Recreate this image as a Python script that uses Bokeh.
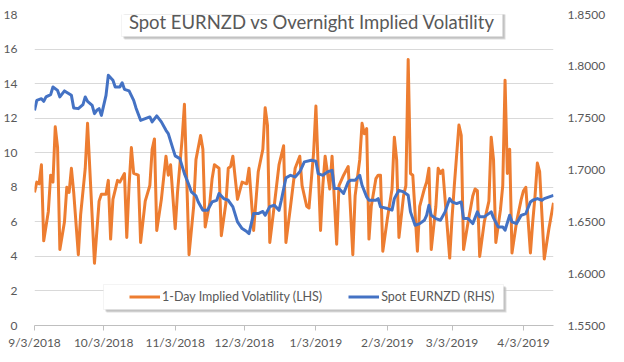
import pandas as pd
from bokeh.plotting import figure
from bokeh.models import (Range1d, LinearAxis, FixedTicker, NumeralTickFormatter,
                          ColumnDataSource, Legend, LegendItem, Label, BoxAnnotation)
from bokeh.embed import file_html
from bokeh.resources import INLINE

# ---------------- data ----------------
title_text = "Spot EURNZD vs Overnight Implied Volatility"
vol_name = "1-Day Implied Volatility (LHS)"
spot_name = "Spot EURNZD (RHS)"

vol_dates = [
    "2018-09-03", "2018-09-04", "2018-09-05", "2018-09-06", "2018-09-07", "2018-09-09", "2018-09-10",
    "2018-09-11", "2018-09-12", "2018-09-13", "2018-09-14", "2018-09-16", "2018-09-17", "2018-09-18",
    "2018-09-19", "2018-09-20", "2018-09-22", "2018-09-23", "2018-09-25", "2018-09-26", "2018-09-29",
    "2018-10-01", "2018-10-02", "2018-10-04", "2018-10-05", "2018-10-06", "2018-10-07", "2018-10-09",
    "2018-10-10", "2018-10-12", "2018-10-13", "2018-10-14", "2018-10-15", "2018-10-16", "2018-10-18",
    "2018-10-19", "2018-10-21", "2018-10-23", "2018-10-24", "2018-10-25", "2018-10-26", "2018-10-28",
    "2018-10-30", "2018-10-31",
    "2018-11-01", "2018-11-03", "2018-11-04", "2018-11-06", "2018-11-07", "2018-11-09", "2018-11-11",
    "2018-11-12", "2018-11-14", "2018-11-15", "2018-11-16", "2018-11-18", "2018-11-19", "2018-11-20",
    "2018-11-22", "2018-11-23", "2018-11-25", "2018-11-26", "2018-11-27", "2018-11-28", "2018-11-30",
    "2018-12-02", "2018-12-04", "2018-12-05", "2018-12-07", "2018-12-09", "2018-12-11", "2018-12-12",
    "2018-12-13", "2018-12-14", "2018-12-16", "2018-12-18", "2018-12-20", "2018-12-21", "2018-12-23",
    "2018-12-25", "2018-12-27", "2018-12-28", "2018-12-30", "2018-12-31",
    "2019-01-02", "2019-01-03", "2019-01-05", "2019-01-06", "2019-01-07", "2019-01-09", "2019-01-10",
    "2019-01-12", "2019-01-13", "2019-01-15", "2019-01-17", "2019-01-19", "2019-01-20", "2019-01-22",
    "2019-01-23", "2019-01-24", "2019-01-25", "2019-01-26", "2019-01-27", "2019-01-29", "2019-01-30",
    "2019-01-31",
    "2019-02-01", "2019-02-03", "2019-02-05", "2019-02-06", "2019-02-07", "2019-02-08", "2019-02-10",
    "2019-02-11", "2019-02-12", "2019-02-13", "2019-02-14", "2019-02-16", "2019-02-17", "2019-02-19",
    "2019-02-20", "2019-02-21", "2019-02-22", "2019-02-24", "2019-02-25", "2019-02-26", "2019-02-27",
    "2019-03-02", "2019-03-03", "2019-03-04", "2019-03-06", "2019-03-07", "2019-03-08", "2019-03-10",
    "2019-03-12", "2019-03-13", "2019-03-14", "2019-03-15", "2019-03-17", "2019-03-19", "2019-03-20",
    "2019-03-21", "2019-03-22", "2019-03-24", "2019-03-25", "2019-03-26", "2019-03-27", "2019-03-28",
    "2019-03-29", "2019-03-31",
    "2019-04-02", "2019-04-03", "2019-04-04", "2019-04-06", "2019-04-07", "2019-04-08", "2019-04-09",
    "2019-04-10", "2019-04-12", "2019-04-14", "2019-04-16",
]
vol_values = [
    7.7, 8.3, 8.2, 9.3, 4.9, 6.6, 8.7, 8.3, 11.5, 10.3, 4.4, 6.0, 8.0, 7.7, 9.1, 7.7, 4.1, 6.4, 9.1, 11.7, 3.6,
    7.2, 7.6, 7.6, 8.4, 5.0, 7.3, 8.4, 8.3, 8.8, 5.1, 8.1, 10.3, 8.8, 8.7, 4.8, 7.2, 8.1, 10.2, 10.8, 5.5,
    7.3, 9.8, 8.7,
    9.3, 5.6, 7.7, 10.8, 12.8, 4.1, 6.9, 9.6, 11.0, 10.2, 5.7, 7.1, 8.5, 9.3, 9.1, 5.2, 7.1, 9.1, 9.2, 9.8, 7.3,
    8.3, 8.2, 9.1, 5.5, 8.9, 10.2, 12.6, 11.6, 4.8, 7.0, 9.3, 10.4, 4.8, 6.9, 9.1, 9.8, 8.1, 6.9, 6.8,
    10.0, 12.7, 5.5, 8.1, 9.8, 7.9, 9.8, 4.7, 8.1, 8.7, 9.2, 4.1, 7.5, 9.6, 11.7, 11.1, 11.4, 5.0, 6.9,
    8.5, 8.7, 8.7,
    4.3, 6.2, 7.9, 10.9, 9.6, 5.1, 7.5, 8.1, 15.4, 8.8, 8.7, 4.3, 6.9, 7.9, 8.3, 9.1, 4.4, 6.9, 9.1, 8.8, 9.0,
    3.9, 6.2, 8.1, 11.6, 11.0, 4.4, 6.0, 7.5, 7.9, 7.8, 4.0, 6.0, 7.2, 10.9, 9.6, 4.8, 6.7, 8.1, 14.2, 8.8,
    10.2, 4.2, 6.0,
    7.3, 7.8, 8.0, 4.2, 6.0, 7.5, 9.4, 8.9, 3.85, 5.6, 7.1,
]

spot_dates = [
    "2018-09-03", "2018-09-04", "2018-09-06", "2018-09-07", "2018-09-08", "2018-09-10", "2018-09-11",
    "2018-09-13", "2018-09-14", "2018-09-16", "2018-09-19", "2018-09-20", "2018-09-22", "2018-09-24",
    "2018-09-25", "2018-09-26", "2018-09-28", "2018-09-29", "2018-09-30",
    "2018-10-01", "2018-10-02", "2018-10-04", "2018-10-05", "2018-10-07", "2018-10-08", "2018-10-10",
    "2018-10-11", "2018-10-12", "2018-10-14", "2018-10-16", "2018-10-17", "2018-10-19", "2018-10-21",
    "2018-10-23", "2018-10-24", "2018-10-26", "2018-10-28", "2018-10-30", "2018-10-31",
    "2018-11-02", "2018-11-03", "2018-11-05", "2018-11-07", "2018-11-09", "2018-11-10", "2018-11-12",
    "2018-11-13", "2018-11-15", "2018-11-17", "2018-11-19", "2018-11-21", "2018-11-22", "2018-11-24",
    "2018-11-26", "2018-11-28", "2018-11-30",
    "2018-12-02", "2018-12-04", "2018-12-05", "2018-12-07", "2018-12-09", "2018-12-11", "2018-12-12",
    "2018-12-14", "2018-12-16", "2018-12-18", "2018-12-19", "2018-12-21", "2018-12-23", "2018-12-25",
    "2018-12-27", "2018-12-29",
    "2019-01-01", "2019-01-03", "2019-01-04", "2019-01-06", "2019-01-08", "2019-01-10", "2019-01-11",
    "2019-01-13", "2019-01-15", "2019-01-17", "2019-01-18", "2019-01-20", "2019-01-22", "2019-01-23",
    "2019-01-25", "2019-01-26", "2019-01-29", "2019-01-30", "2019-01-31",
    "2019-02-03", "2019-02-05", "2019-02-06", "2019-02-08", "2019-02-10", "2019-02-12", "2019-02-13",
    "2019-02-15", "2019-02-17", "2019-02-19", "2019-02-20", "2019-02-21", "2019-02-22", "2019-02-24",
    "2019-02-26", "2019-02-28",
    "2019-03-02", "2019-03-03", "2019-03-05", "2019-03-07", "2019-03-08", "2019-03-10", "2019-03-12",
    "2019-03-14", "2019-03-15", "2019-03-17", "2019-03-20", "2019-03-21", "2019-03-23", "2019-03-25",
    "2019-03-26", "2019-03-28", "2019-03-29", "2019-03-31",
    "2019-04-02", "2019-04-04", "2019-04-06", "2019-04-07", "2019-04-09", "2019-04-11", "2019-04-12",
    "2019-04-16",
]
spot_values = [
    1.7576, 1.7672, 1.7688, 1.7662, 1.7705, 1.7727, 1.7801, 1.7768, 1.7705, 1.7763, 1.7720, 1.7599,
    1.7592, 1.7630, 1.7705, 1.7662, 1.7624, 1.7544, 1.7576,
    1.7592, 1.7527, 1.7720, 1.7913, 1.7865, 1.7801, 1.7801, 1.7842, 1.7778, 1.7763, 1.7672, 1.7599,
    1.7479, 1.7495, 1.7512, 1.7464, 1.7522, 1.7464, 1.7383, 1.7351,
    1.7206, 1.7136, 1.7110, 1.6965, 1.6853, 1.6789, 1.6750, 1.6692, 1.6611, 1.6611, 1.6692, 1.6708,
    1.6773, 1.6724, 1.6708, 1.6644, 1.6500,
    1.6435, 1.6406, 1.6387, 1.6580, 1.6580, 1.6600, 1.6563, 1.6647, 1.6660, 1.6611, 1.6708, 1.6924,
    1.6949, 1.6933, 1.6982, 1.7078,
    1.7094, 1.7084, 1.6965, 1.6949, 1.6982, 1.6997, 1.6821, 1.6821, 1.6773, 1.6885, 1.6901, 1.6901,
    1.6949, 1.6853, 1.6741, 1.6708, 1.6708, 1.6724, 1.6644,
    1.6628, 1.6613, 1.6724, 1.6804, 1.6789, 1.6756, 1.6596, 1.6467, 1.6483, 1.6515, 1.6563, 1.6660,
    1.6563, 1.6531, 1.6515, 1.6596,
    1.6724, 1.6692, 1.6676, 1.6692, 1.6531, 1.6531, 1.6483, 1.6596, 1.6548, 1.6548, 1.6596, 1.6538,
    1.6451, 1.6451, 1.6419, 1.6563, 1.6500, 1.6483,
    1.6563, 1.6580, 1.6692, 1.6708, 1.6724, 1.6708, 1.6724, 1.6756,
]

x_start, x_end = "2018-09-03", "2019-04-16"
x_tick_dates = ["2018-09-03", "2018-10-03", "2018-11-03", "2018-12-03",
                "2019-01-03", "2019-02-03", "2019-03-03", "2019-04-03"]
x_tick_labels = ["9/3/2018", "10/3/2018", "11/3/2018", "12/3/2018",
                 "1/3/2019", "2/3/2019", "3/3/2019", "4/3/2019"]
left_ticks = [0, 2, 4, 6, 8, 10, 12, 14, 16, 18]
right_ticks = [1.55, 1.60, 1.65, 1.70, 1.75, 1.80, 1.85]

assert len(vol_dates) == len(vol_values)
assert len(spot_dates) == len(spot_values)

# ---------------- style ----------------
ORANGE = "#ED7D31"
BLUE = "#4472C4"
TXT = "#595959"
GRID = "#d9d9d9"
FONT = "Lato"

vol_src = ColumnDataSource(dict(x=pd.to_datetime(vol_dates), y=vol_values))
spot_src = ColumnDataSource(dict(x=pd.to_datetime(spot_dates), y=spot_values))

p = figure(width=608, height=352, output_backend="svg", toolbar_location=None,
           x_axis_type=None,
           x_range=Range1d(pd.Timestamp(x_start), pd.Timestamp(x_end)),
           y_range=Range1d(left_ticks[0], left_ticks[-1]))
p.extra_y_ranges = {"spot": Range1d(right_ticks[0], right_ticks[-1])}
p.min_border_left = 26
p.min_border_right = 46
p.min_border_top = 14
p.min_border_bottom = 27
p.outline_line_color = None
p.background_fill_color = "white"
p.border_fill_color = "white"

# left axis
lax = p.yaxis[0]
lax.ticker = FixedTicker(ticks=left_ticks)
lax.axis_line_color = None
lax.major_tick_line_color = None
lax.minor_tick_line_color = None
lax.major_label_text_font = FONT
lax.major_label_text_font_size = "12px"
lax.major_label_text_color = TXT
lax.major_label_standoff = 11

p.ygrid.ticker = FixedTicker(ticks=left_ticks)
p.ygrid.grid_line_color = GRID
p.ygrid.grid_line_width = 1

# right axis
rax = LinearAxis(y_range_name="spot", ticker=FixedTicker(ticks=right_ticks),
                 formatter=NumeralTickFormatter(format="0.0000"))
rax.axis_line_color = None
rax.major_tick_line_color = None
rax.minor_tick_line_color = None
rax.major_label_text_font = FONT
rax.major_label_text_font_size = "12px"
rax.major_label_text_color = TXT
rax.major_label_standoff = 8
p.add_layout(rax, "right")

# bottom date axis
tick_ms = [int(pd.Timestamp(d).value // 10**6) for d in x_tick_dates]
xax = LinearAxis(ticker=FixedTicker(ticks=tick_ms),
                 major_label_overrides={ms: lab for ms, lab in zip(tick_ms, x_tick_labels)})
xax.axis_line_color = "#bfbfbf"
xax.major_tick_line_color = "#bfbfbf"
xax.major_tick_out = 5
xax.major_tick_in = 0
xax.minor_tick_line_color = None
xax.major_label_text_font = FONT
xax.major_label_text_font_size = "12px"
xax.major_label_text_color = TXT
xax.major_label_standoff = 4
xax.axis_label_standoff = 0
p.add_layout(xax, "below")

# lines
r_vol = p.line("x", "y", source=vol_src, line_color=ORANGE, line_width=3, line_join="round")
r_spot = p.line("x", "y", source=spot_src, line_color=BLUE, line_width=3, line_join="round",
                y_range_name="spot")


def box_with_shadow(left, right, bottom, top):
    for d, col, alpha in [(3, "#cfcfcf", 0.7), (2, "#b0b0b0", 0.6)]:
        p.add_layout(BoxAnnotation(left=left + d, right=right + d, bottom=bottom - d, top=top - d,
                                   left_units="screen", right_units="screen",
                                   bottom_units="screen", top_units="screen",
                                   fill_color=col, fill_alpha=alpha, line_color=None))
    p.add_layout(BoxAnnotation(left=left, right=right, bottom=bottom, top=top,
                               left_units="screen", right_units="screen",
                               bottom_units="screen", top_units="screen",
                               fill_color="white", fill_alpha=1.0,
                               line_color=GRID, line_width=1))


# title box (frame-relative screen units) and title text
box_with_shadow(87, 468, 289, 319)
p.add_layout(Label(x=277.5, y=304, x_units="screen", y_units="screen",
                   text=title_text, text_font=FONT, text_font_size="18.5px", text_color=TXT,
                   text_align="center", text_baseline="middle"))

# legend box
box_with_shadow(69, 469, 16, 41)
legend = Legend(items=[LegendItem(label=vol_name, renderers=[r_vol]),
                       LegendItem(label=spot_name, renderers=[r_spot])],
                location=(95, 21), orientation="horizontal", padding=0, margin=0, spacing=26,
                glyph_width=31, glyph_height=15, label_height=15, label_standoff=2,
                label_text_font=FONT, label_text_font_size="12.5px", label_text_color=TXT,
                border_line_alpha=0, background_fill_alpha=0)
p.add_layout(legend)

open("out.html", "w").write(file_html(p, INLINE))
